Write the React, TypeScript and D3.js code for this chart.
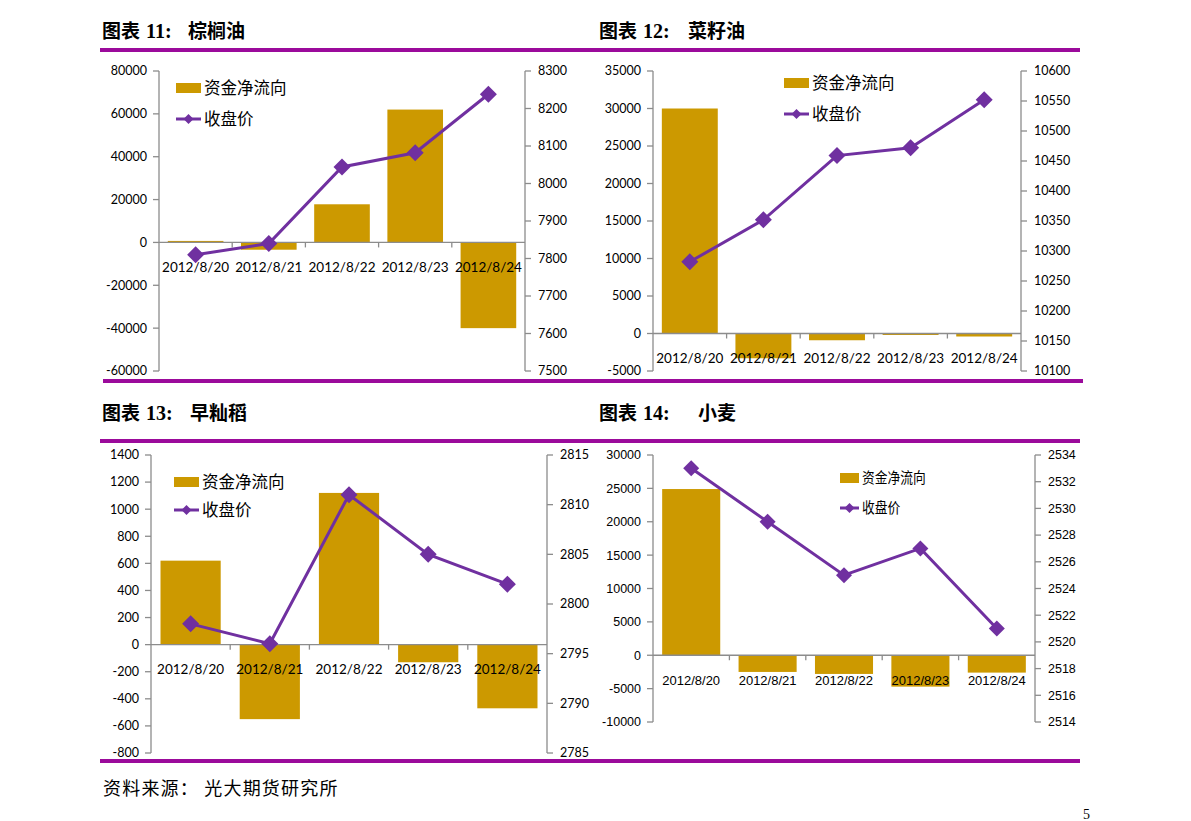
import * as d3 from 'd3';
import React from 'react';

const dates = ['2012/8/20', '2012/8/21', '2012/8/22', '2012/8/23', '2012/8/24'];

// 棕榈油
const palmFlow = [700, -3400, 17800, 62000, -40000];
const palmClose = [7810, 7840, 8044, 8082, 8238];
const palmLeftTicks = [-60000, -40000, -20000, 0, 20000, 40000, 60000, 80000];
const palmRightTicks = [7500, 7600, 7700, 7800, 7900, 8000, 8100, 8200, 8300];

// 菜籽油
const rapeFlow = [30000, -3300, -900, -200, -400];
const rapeClose = [10282, 10352, 10459, 10472, 10552];
const rapeLeftTicks = [-5000, 0, 5000, 10000, 15000, 20000, 25000, 30000, 35000];
const rapeRightTicks = [10100, 10150, 10200, 10250, 10300, 10350, 10400, 10450, 10500, 10550, 10600];

// 早籼稻
const riceFlow = [620, -550, 1120, -130, -470];
const riceClose = [2798, 2796, 2811, 2805, 2802];
const riceLeftTicks = [-800, -600, -400, -200, 0, 200, 400, 600, 800, 1000, 1200, 1400];
const riceRightTicks = [2785, 2790, 2795, 2800, 2805, 2810, 2815];

// 小麦
const wheatFlow = [24900, -2500, -2800, -4700, -2600];
const wheatClose = [2533, 2529, 2525, 2527, 2521];
const wheatLeftTicks = [-10000, -5000, 0, 5000, 10000, 15000, 20000, 25000, 30000];
const wheatRightTicks = [2514, 2516, 2518, 2520, 2522, 2524, 2526, 2528, 2530, 2532, 2534];

const BAR = '#CC9900';
const LINE = '#7030A0';
const AXIS = '#8C8C8C';
const RULE = '#9B0A9B';
const CJK = '"Noto Sans CJK SC", sans-serif';

type PanelProps = {
  x0: number; x1: number; yTop: number; yBot: number;
  flow: number[]; close: number[];
  leftTicks: number[]; rightTicks: number[];
  legX: number; legY: number; legGap: number;
  narrow?: boolean;
};

function Panel({ x0, x1, yTop, yBot, flow, close, leftTicks, rightTicks, legX, legY, legGap, narrow }: PanelProps) {
  const x = d3.scaleBand<string>().domain(dates).range([x0, x1]).paddingInner(0.24).paddingOuter(0.12);
  const step = x.step();
  const yL = d3.scaleLinear().domain(d3.extent(leftTicks) as [number, number]).range([yBot, yTop]);
  const yR = d3.scaleLinear().domain(d3.extent(rightTicks) as [number, number]).range([yBot, yTop]);
  const zero = yL(0);
  const numFont = narrow ? '"Liberation Sans Narrow", "Liberation Sans", sans-serif' : 'Lato, sans-serif';
  const numSize = 12.5;
  const line = d3.line<number>().x((_, i) => (x(dates[i]) as number) + x.bandwidth() / 2).y(d => yR(d));
  const dm = narrow ? 8 : 8.5;
  const legSize = narrow ? 15 : 16.5;
  const legW = narrow ? 19 : 25;
  const squeeze = narrow ? `translate(${(legX + 22) * 0.15},0) scale(0.85,1)` : undefined;
  return (
    <g>
      {flow.map((v, i) => (
        <rect key={i} x={x(dates[i])} width={x.bandwidth()} y={Math.min(yL(v), zero)}
          height={Math.abs(yL(v) - zero)} fill={BAR} />
      ))}
      {/* left axis */}
      <line x1={x0} x2={x0} y1={yTop} y2={yBot} stroke={AXIS} strokeWidth={1.3} />
      {leftTicks.map(t => (
        <g key={t}>
          <line x1={x0 - 6} x2={x0} y1={yL(t)} y2={yL(t)} stroke={AXIS} strokeWidth={1.3} />
          <text x={x0 - 12} y={yL(t)} dy="0.35em" textAnchor="end" fontFamily={numFont} fontSize={numSize} fill="#000">{t}</text>
        </g>
      ))}
      {/* right axis */}
      <line x1={x1} x2={x1} y1={yTop} y2={yBot} stroke={AXIS} strokeWidth={1.3} />
      {rightTicks.map(t => (
        <g key={t}>
          <line x1={x1} x2={x1 + 6} y1={yR(t)} y2={yR(t)} stroke={AXIS} strokeWidth={1.3} />
          <text x={x1 + 13} y={yR(t)} dy="0.35em" fontFamily={numFont} fontSize={numSize} fill="#000">{t}</text>
        </g>
      ))}
      {/* category axis at zero */}
      <line x1={x0} x2={x1} y1={zero} y2={zero} stroke={AXIS} strokeWidth={1.3} />
      {d3.range(1, dates.length).map(i => (
        <line key={i} x1={x0 + i * step} x2={x0 + i * step} y1={zero} y2={zero + 5} stroke={AXIS} strokeWidth={1.3} />
      ))}
      {dates.map(d => (
        <text key={d} x={(x(d) as number) + x.bandwidth() / 2} y={zero + 25} dy="0.35em" textAnchor="middle"
          fontFamily={numFont} fontSize={narrow ? 13 : 13.5} fill="#000">{d}</text>
      ))}
      {/* close price line */}
      <path d={line(close) as string} fill="none" stroke={LINE} strokeWidth={3} />
      {close.map((v, i) => {
        const cx = (x(dates[i]) as number) + x.bandwidth() / 2;
        const cy = yR(v);
        return <path key={i} d={`M${cx},${cy - dm}L${cx + dm},${cy}L${cx},${cy + dm}L${cx - dm},${cy}Z`} fill={LINE} />;
      })}
      {/* legend */}
      <rect x={legX} y={legY - 5} width={legW} height={10} fill={BAR} />
      <text x={legX + legW + 3} y={legY} dy="0.35em" fontFamily={CJK} fontSize={legSize} fill="#000"
        transform={squeeze}>资金净流向</text>
      <line x1={legX} x2={legX + legW} y1={legY + legGap} y2={legY + legGap} stroke={LINE} strokeWidth={3} />
      <path d={`M${legX + legW / 2},${legY + legGap - 5}l5,5l-5,5l-5,-5Z`} fill={LINE} />
      <text x={legX + legW + 3} y={legY + legGap} dy="0.35em" fontFamily={CJK} fontSize={legSize} fill="#000"
        transform={squeeze}>收盘价</text>
    </g>
  );
}

function Title({ x, y, num, name, nameX }: { x: number; y: number; num: string; name: string; nameX: number }) {
  return (
    <g>
      <text x={x} y={y} fontFamily={CJK} fontWeight={700} fontSize={19} fill="#000">图表</text>
      <text x={x + 44} y={y} fontFamily='"Liberation Serif", serif' fontWeight={700} fontSize={20} fill="#000">{num}</text>
      <text x={nameX} y={y} fontFamily={CJK} fontWeight={700} fontSize={19} fill="#000">{name}</text>
    </g>
  );
}

export default function App() {
  return (
    <svg width={1191} height={821} style={{ position: 'absolute', left: 0, top: 0, background: '#fff' }}>
      <rect width={1191} height={821} fill="#fff" />
      <Title x={102} y={38} num="11:" name="棕榈油" nameX={188} />
      <Title x={599} y={38} num="12:" name="菜籽油" nameX={688} />
      <Title x={102} y={420} num="13:" name="早籼稻" nameX={190} />
      <Title x={599} y={420} num="14:" name="小麦" nameX={698} />

      <rect x={100} y={48} width={980} height={4} fill={RULE} />
      <rect x={103} y={379} width={980} height={4} fill={RULE} />
      <rect x={100} y={439} width={980} height={4} fill={RULE} />
      <rect x={100} y={759} width={980} height={4} fill={RULE} />

      <Panel x0={159} x1={525} yTop={71} yBot={371} flow={palmFlow} close={palmClose}
        leftTicks={palmLeftTicks} rightTicks={palmRightTicks} legX={176} legY={88} legGap={31} />
      <Panel x0={653} x1={1021} yTop={71} yBot={371} flow={rapeFlow} close={rapeClose}
        leftTicks={rapeLeftTicks} rightTicks={rapeRightTicks} legX={784} legY={83} legGap={31} />
      <Panel x0={151} x1={547} yTop={455} yBot={753} flow={riceFlow} close={riceClose}
        leftTicks={riceLeftTicks} rightTicks={riceRightTicks} legX={174} legY={482} legGap={28} />
      <Panel x0={653} x1={1035} yTop={455} yBot={722} flow={wheatFlow} close={wheatClose}
        leftTicks={wheatLeftTicks} rightTicks={wheatRightTicks} legX={840} legY={478} legGap={30} narrow />

      <text x={103} y={795} fontFamily={CJK} fontSize={18} letterSpacing={1.2} fill="#000">资料来源：  光大期货研究所</text>
      <text x={1083} y={819} fontFamily='"Liberation Serif", serif' fontSize={14} fill="#000">5</text>
    </svg>
  );
}
